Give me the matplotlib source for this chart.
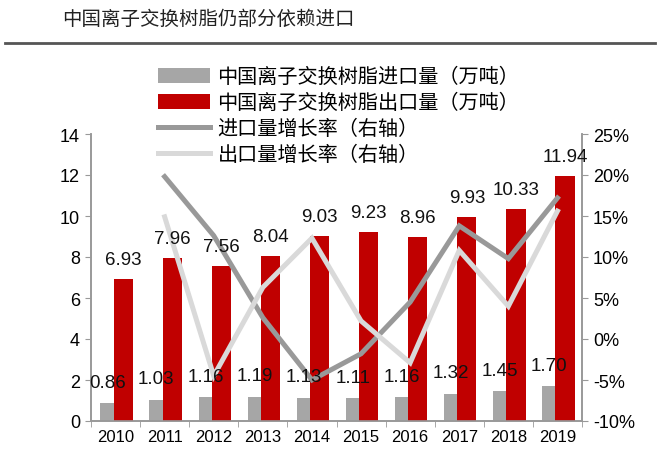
import matplotlib
matplotlib.use("Agg")
import matplotlib.pyplot as plt
from matplotlib.patches import Patch
from matplotlib.lines import Line2D
import numpy as np

plt.rcParams['font.family'] = ['Liberation Sans', 'Noto Sans CJK SC', 'DejaVu Sans']

years = ['2010', '2011', '2012', '2013', '2014', '2015', '2016', '2017', '2018', '2019']
import_vol = [0.86, 1.03, 1.16, 1.19, 1.13, 1.11, 1.16, 1.32, 1.45, 1.70]
export_vol = [6.93, 7.96, 7.56, 8.04, 9.03, 9.23, 8.96, 9.93, 10.33, 11.94]
growth_years = years[1:]
import_growth = [19.8, 12.6, 2.6, -5.0, -1.8, 4.5, 13.8, 9.8, 17.2]
export_growth = [14.9, -4.5, 6.3, 12.3, 2.2, -2.9, 10.8, 4.0, 15.6]

title = '中国离子交换树脂仍部分依赖进口'
legend_labels = ['中国离子交换树脂进口量（万吨）', '中国离子交换树脂出口量（万吨）',
                 '进口量增长率（右轴）', '出口量增长率（右轴）']

c_grey_bar = '#a6a6a6'
c_red = '#c00000'
c_imp_line = '#999999'
c_exp_line = '#d9d9d9'
c_axis = '#999999'

fig = plt.figure(figsize=(6.6, 4.6), dpi=100)
ax = fig.add_axes([91/660, 1-422/460, (582-91)/660, (422-135)/460])
ax2 = ax.twinx()

x = np.arange(len(years))
gx = x - 0.17
rx = x + 0.155
ax.bar(gx, import_vol, width=0.28, color=c_grey_bar, zorder=2)
ax.bar(rx, export_vol, width=0.39, color=c_red, zorder=3)
ax.set_ylim(0, 14)
ax.set_yticks(np.arange(0, 15, 2))
ax.set_xlim(-0.5, len(years) - 0.5)

gxi = np.arange(1, len(years))
ax2.plot(gxi, import_growth, color=c_imp_line, lw=3.6, solid_joinstyle='miter', zorder=4)
ax2.plot(gxi, export_growth, color=c_exp_line, lw=3.6, solid_joinstyle='miter', zorder=5)
ax2.set_ylim(-10, 25)
ax2.set_yticks(np.arange(-10, 26, 5))
ax2.set_yticklabels([f'{v}%' for v in range(-10, 26, 5)])

# labels
for i in range(len(years)):
    ax2.annotate(f'{import_vol[i]:.2f}', xy=(gx[i], import_vol[i]), xycoords=ax.transData,
                 xytext=(0, 9), textcoords='offset points', ha='center', va='bottom',
                 fontsize=13.5, color='#111111', zorder=10)
    ax2.annotate(f'{export_vol[i]:.2f}', xy=(rx[i], export_vol[i]), xycoords=ax.transData,
                 xytext=(0, 8), textcoords='offset points', ha='center', va='bottom',
                 fontsize=13.5, color='#111111', zorder=10)

ax.set_xticks(x)
ax.set_xticklabels(years, fontsize=12)
ax.set_xticks(np.arange(-0.5, len(years), 1), minor=True)
ax.tick_params(axis='x', which='major', length=0, pad=6)
ax.tick_params(axis='x', which='minor', length=4, color=c_axis)
ax.tick_params(axis='y', labelsize=13, length=4, color=c_axis, pad=4)
ax2.tick_params(axis='y', labelsize=13, length=4, color=c_axis, pad=4)

for a in (ax, ax2):
    for s in ['top']:
        a.spines[s].set_visible(False)
    for s in ['left', 'right', 'bottom']:
        a.spines[s].set_color(c_axis)
        a.spines[s].set_linewidth(1.2)

# title & rule
fig.text(62/660, 1-20/460, title, fontsize=14, va='center', ha='left', color='#222222')
fig.add_artist(Line2D([5/660, 655/660], [1-44/460, 1-44/460], color='#555555', lw=2))

handles = [Patch(facecolor=c_grey_bar, edgecolor='none'),
           Patch(facecolor=c_red, edgecolor='none'),
           Line2D([], [], color=c_imp_line, lw=3.6),
           Line2D([], [], color=c_exp_line, lw=3.6)]
fig.legend(handles, legend_labels, loc='upper left', bbox_to_anchor=(158/660, 1-68/460),
           frameon=False, fontsize=14.5, handlelength=2.6, handleheight=0.8,
           labelspacing=0.33, handletextpad=0.35, borderpad=0, borderaxespad=0)

fig.savefig('out.png', dpi=100)
